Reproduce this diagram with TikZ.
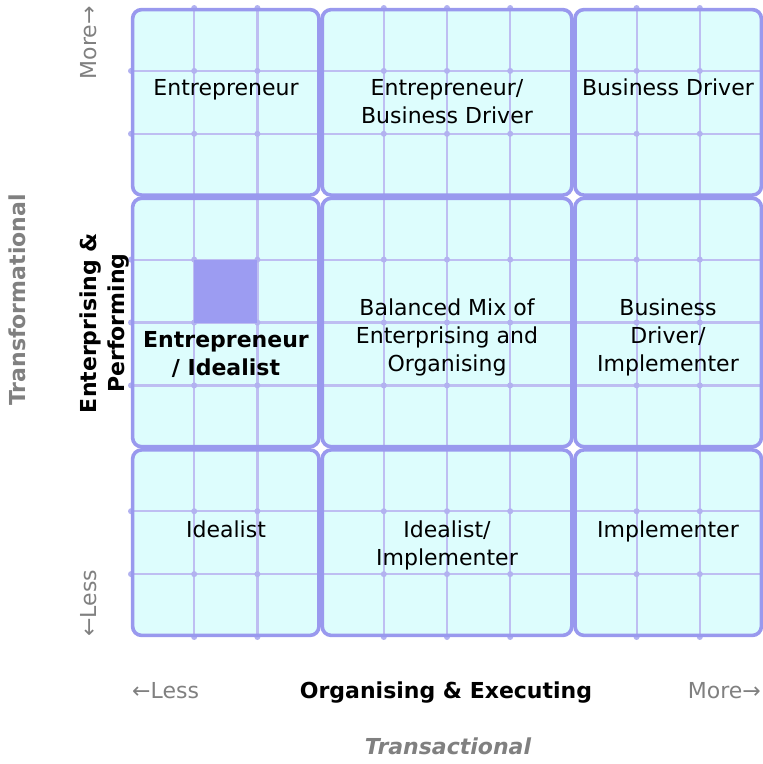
\documentclass[tikz,border=0pt]{standalone}
\usepackage{fontspec}
\setmainfont{DejaVu Sans}
\definecolor{cellfill}{HTML}{DDFDFD}
\definecolor{cellborder}{HTML}{9999EE}
\definecolor{fineline}{HTML}{BEBEF2}
\definecolor{finedot}{HTML}{B2B2F0}
\definecolor{hilite}{HTML}{9C9CF2}
\definecolor{axisgray}{HTML}{808080}
\begin{document}
\begin{tikzpicture}[x=1pt,y=-1pt,
  cellbg/.style={rectangle, inner sep=0pt, fill=cellfill, rounded corners=9pt},
  cellframe/.style={draw=cellborder, line width=3.6pt, rounded corners=9pt},
  fine/.style={draw=fineline, line width=2.2pt},
  lbl/.style={font=\fontsize{22}{28}\selectfont, align=center, anchor=base, inner sep=0pt, text=black},
  blbl/.style={lbl, font=\fontsize{22}{28}\selectfont\bfseries},
  axlbl/.style={font=\fontsize{22}{28}\selectfont, inner sep=0pt, text=axisgray},
  hlbox/.style={rectangle, inner sep=0pt, fill=hilite, minimum width=63.2pt, minimum height=62.9pt}
]
\useasboundingbox (0,0) rectangle (763,764);
% cell backgrounds
\foreach \n/\xa/\ya/\xb/\yb in {
  c11/131/8/320.6/196.7, c12/320.6/8/573.4/196.7, c13/573.4/8/763/196.7,
  c21/131/196.7/320.6/448.3, c22/320.6/196.7/573.4/448.3, c23/573.4/196.7/763/448.3,
  c31/131/448.3/320.6/637, c32/320.6/448.3/573.4/637, c33/573.4/448.3/763/637}
{
  \node[cellbg, minimum width={\xb-\xa-3.6}, minimum height={\yb-\ya-3.6}] (\n) at ({(\xa+\xb)/2},{(\ya+\yb)/2}) {};
}
% fine grid
\foreach \x in {194.2,257.4,383.8,447,510.2,636.6,699.8}
  \draw[fine] (\x,8) -- (\x,637);
\foreach \y in {70.9,133.8,259.6,322.5,385.4,511.2,574.1}
  \draw[fine] (131,\y) -- (763,\y);
\foreach \x in {194.2,257.4,383.8,447,510.2,636.6,699.8}
  \foreach \y in {8,70.9,133.8,196.7,259.6,322.5,385.4,448.3,511.2,574.1,637}
    \fill[finedot] (\x,\y) circle (3pt);
\foreach \y in {70.9,133.8,259.6,322.5,385.4,511.2,574.1}
  \foreach \x in {131,320.6,573.4,763}
    \fill[finedot] (\x,\y) circle (3pt);
% highlighted square
\node[hlbox] (hl) at (225.8,291.05) {};
% cell borders
\foreach \n in {c11,c12,c13,c21,c22,c23,c31,c32,c33}
  \draw[cellframe] (\n.north west) rectangle (\n.south east);
% cell labels (base = baseline of the last line)
\node[lbl] (t11) at (226,95) {Entrepreneur};
\node[lbl] (t12) at (447,123) {Entrepreneur/\\Business Driver};
\node[lbl] (t13) at (668,95) {Business Driver};
\node[blbl] (t21) at (226,375) {Entrepreneur\\/ Idealist};
\node[lbl] (t22) at (447,371) {Balanced Mix of\\Enterprising and\\Organising};
\node[lbl] (t23) at (668,371) {Business\\Driver/\\Implementer};
\node[lbl] (t31) at (226,537) {Idealist};
\node[lbl] (t32) at (447,565) {Idealist/\\Implementer};
\node[lbl] (t33) at (668,537) {Implementer};
% horizontal axis
\node[axlbl, anchor=base west] (xless) at (132,698) {←Less};
\node[blbl] (xtitle) at (446,698) {Organising \& Executing};
\node[axlbl, anchor=base east] (xmore) at (761,698) {More→};
\node[axlbl, anchor=base, font=\fontsize{22}{28}\selectfont\bfseries\itshape] (xsub) at (448,754) {Transactional};
% vertical axis
\node[axlbl, anchor=base west, rotate=90] (yless) at (96,637) {←Less};
\node[axlbl, anchor=base east, rotate=90] (ymore) at (96,6) {More→};
\node[blbl, rotate=90] (ytitle) at (124,323) {Enterprising \&\\Performing};
\node[axlbl, anchor=base, rotate=90, font=\fontsize{22}{28}\selectfont\bfseries] (ysub) at (26,300) {Transformational};
\end{tikzpicture}
\end{document}
